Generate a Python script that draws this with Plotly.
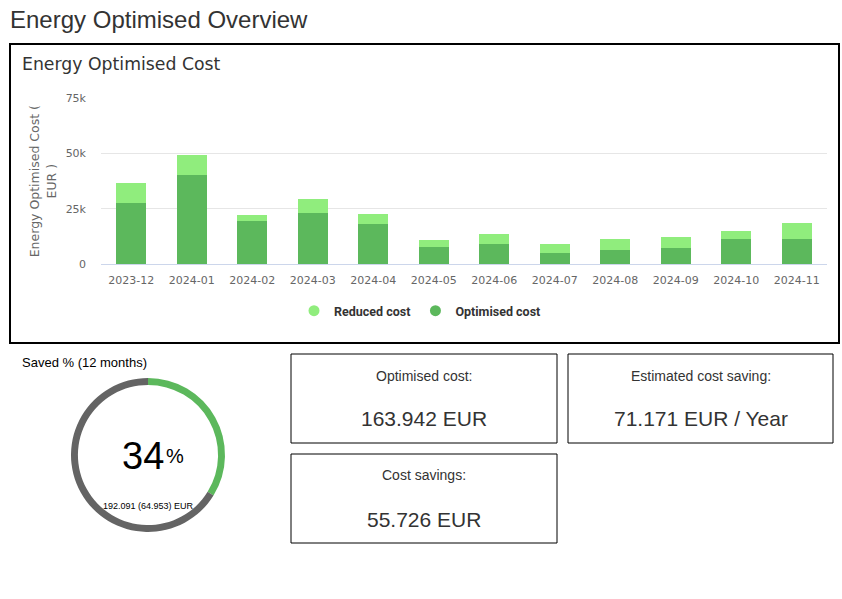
import plotly.graph_objects as go

W, H = 842, 599

# ---------------- data ----------------
months = ["2023-12", "2024-01", "2024-02", "2024-03", "2024-04", "2024-05",
          "2024-06", "2024-07", "2024-08", "2024-09", "2024-10", "2024-11"]
optimised_cost = [27600, 40300, 19500, 23100, 18100, 7700, 9100, 5000, 6300, 7200, 11300, 11300]
reduced_cost = [9100, 9000, 2700, 6300, 4500, 3200, 4500, 4100, 5000, 5000, 3600, 7300]
y_tick_vals = [0, 25000, 50000, 75000]
y_tick_text = ["0", "25k", "50k", "75k"]

saved_total = 192091
saved_amount = 64953
saved_pct_text = "34"
saved_detail_text = "192.091 (64.953) EUR"

kpi_labels = ["Optimised cost:", "Estimated cost saving:", "Cost savings:"]
kpi_values = ["163.942 EUR", "71.171 EUR / Year", "55.726 EUR"]

# ---------------- style ----------------
C_OPT = "#5cb85c"
C_RED = "#90ed7d"
C_GREY = "#646464"
TXT = "#333333"
AX = "#666666"


def px(x):
    return x / W


def py(y):
    return 1 - y / H


fig = go.Figure()

# stacked bars
fig.add_trace(go.Bar(x=months, y=optimised_cost, name="Optimised cost",
                     marker=dict(color=C_OPT, line=dict(width=0)),
                     showlegend=False, legendgroup="opt"))
fig.add_trace(go.Bar(x=months, y=reduced_cost, name="Reduced cost",
                     marker=dict(color=C_RED, line=dict(width=0)),
                     showlegend=False, legendgroup="red"))
# legend entries with round symbols
fig.add_trace(go.Scatter(x=[None], y=[None], mode="markers", name="Reduced cost",
                         marker=dict(color=C_RED, size=11, symbol="circle"),
                         legendgroup="red"))
fig.add_trace(go.Scatter(x=[None], y=[None], mode="markers", name="Optimised cost",
                         marker=dict(color=C_OPT, size=11, symbol="circle"),
                         legendgroup="opt"))

# donut
fig.add_trace(go.Pie(values=[saved_amount, saved_total - saved_amount],
                     labels=["Saved", "Remaining"],
                     marker=dict(colors=[C_OPT, C_GREY], line=dict(width=0)),
                     hole=0.91, sort=False, direction="clockwise", rotation=0,
                     textinfo="none", hoverinfo="skip", showlegend=False,
                     domain=dict(x=[px(71), px(225)], y=[py(532), py(378)])))

fig.update_layout(
    width=W, height=H, autosize=False,
    margin=dict(l=0, r=0, t=0, b=0, pad=0, autoexpand=False),
    paper_bgcolor="white", plot_bgcolor="white",
    font=dict(family="DejaVu Sans", size=11, color=AX),
    barmode="stack", bargap=0.5,
    xaxis=dict(domain=[px(101), px(827)], type="category",
               showline=True, linecolor="#ccd6eb", linewidth=1,
               showgrid=False, ticks="", tickfont=dict(size=11, color=AX),
               ticklabelstandoff=6, fixedrange=True, automargin=False),
    yaxis=dict(domain=[py(264), py(98.3)], range=[0, 75000],
               tickvals=y_tick_vals, ticktext=y_tick_text,
               showgrid=True, gridcolor="#e6e6e6", gridwidth=1,
               zeroline=False, showline=False, ticks="",
               tickfont=dict(size=11, color=AX), ticklabelstandoff=14,
               title=dict(text="Energy Optimised Cost (<br>EUR )",
                          font=dict(size=12.5, color=AX), standoff=6),
               fixedrange=True, automargin=False),
    legend=dict(orientation="h", x=px(420), xanchor="center",
                y=py(311), yanchor="middle",
                font=dict(family="Roboto", size=12.5, color=TXT, weight="bold"),
                itemclick=False, itemdoubleclick=False),
)

shapes = []
# chart frame
shapes.append(dict(type="rect", xref="paper", yref="paper",
                   x0=px(10), x1=px(839), y0=py(343), y1=py(44),
                   line=dict(color="black", width=2), layer="above"))
# KPI boxes
boxes = [(291, 557, 354, 443), (568, 833, 354, 443), (291, 557, 454, 543)]
for (x0, x1, y0, y1) in boxes:
    shapes.append(dict(type="rect", xref="paper", yref="paper",
                       x0=px(x0), x1=px(x1), y0=py(y1), y1=py(y0),
                       line=dict(color="black", width=1)))
fig.update_layout(shapes=shapes)

ann = []


def note(text, x, y, size, family="Liberation Sans", color=TXT, xanchor="center"):
    ann.append(dict(text=text, x=px(x), y=py(y), xref="paper", yref="paper",
                    xanchor=xanchor, yanchor="middle", showarrow=False,
                    font=dict(family=family, size=size, color=color)))


note("Energy Optimised Overview", 8, 20, 24, xanchor="left")
note("Energy Optimised Cost", 20, 64, 17.3, family="DejaVu Sans", xanchor="left")
note("Saved % (12 months)", 20, 362, 13, color="black", xanchor="left")
note(saved_pct_text, 143, 456, 38, color="black")
note("%", 175, 456, 20, color="black")
note(saved_detail_text, 148, 506, 9, color="black")

centers = [(424, 376, 418), (700.5, 376, 418), (424, 475, 519)]
for (cx, ly, vy), lab, val in zip(centers, kpi_labels, kpi_values):
    note(lab, cx, ly, 14)
    note(val, cx, vy, 21)
fig.update_layout(annotations=ann)

fig.write_html("out.html")
